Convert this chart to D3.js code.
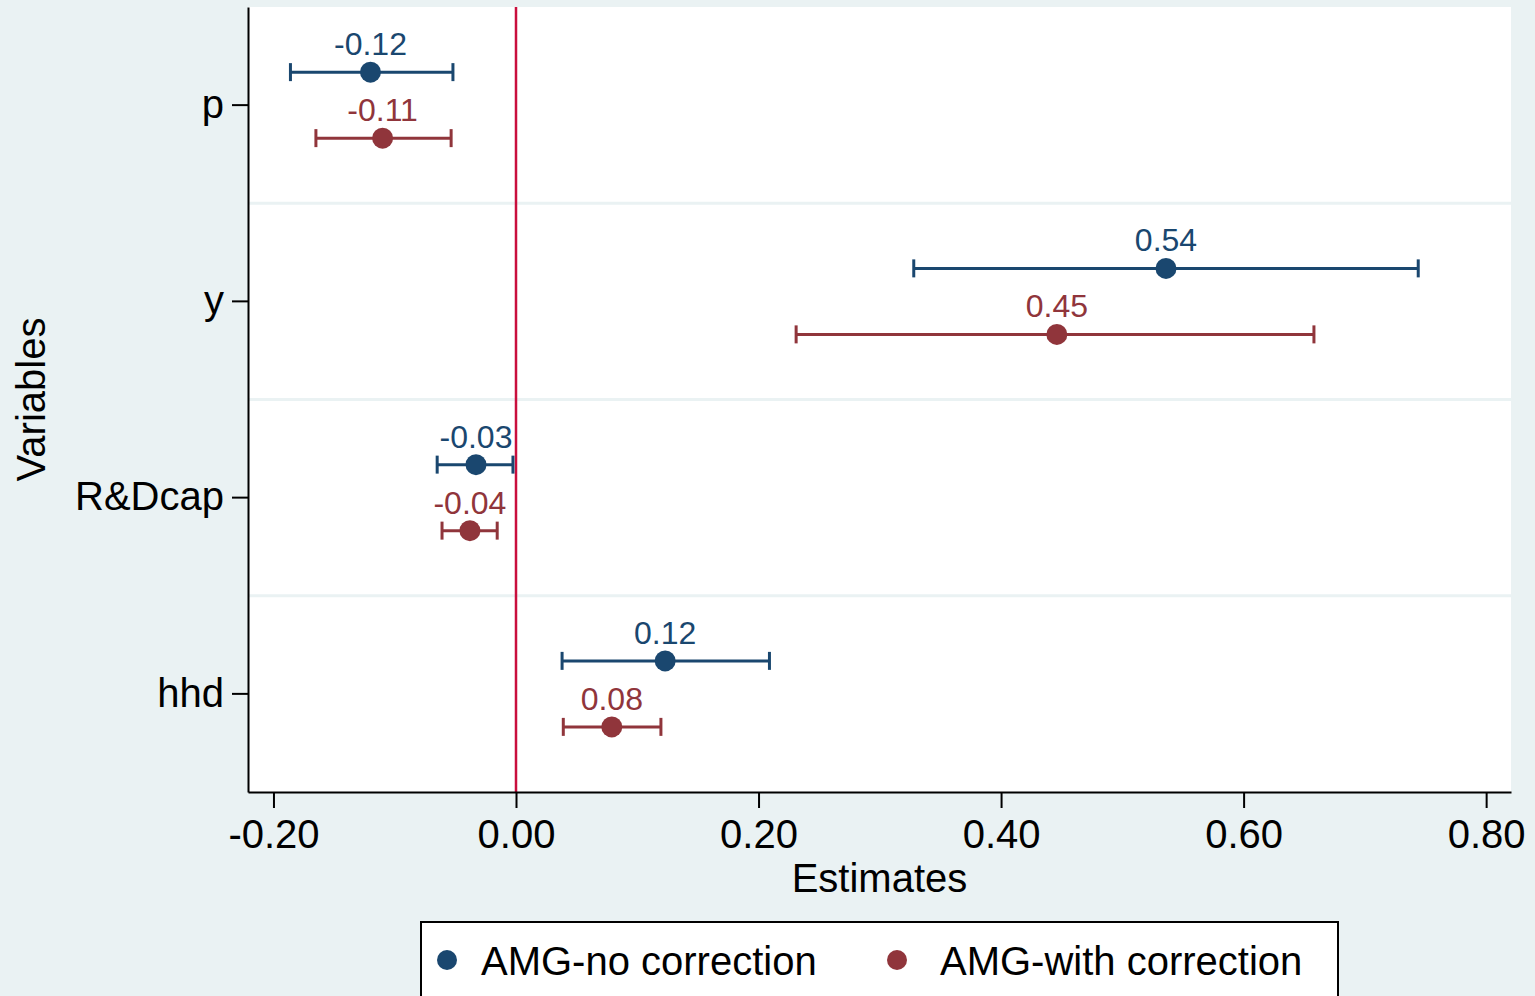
<html>
<head>
    <meta charset="utf-8">
    <script type="text/javascript" src="https://cdnjs.cloudflare.com/ajax/libs/d3/7.8.5/d3.min.js"></script>
    <style>
        body { margin: 0; background: #eaf2f3; }
        text { font-family: "Liberation Sans", Helvetica, Arial, sans-serif; }
    </style>
</head>
<body>
    <div id="viz"></div>
    <script type="text/javascript">

    // data
    var variables = ["p", "y", "R&Dcap", "hhd"];
    var seriesNames = ["AMG-no correction", "AMG-with correction"];
    var noCorr    = [-0.120, 0.536, -0.033, 0.123];
    var noCorrLo  = [-0.186, 0.328, -0.065, 0.038];
    var noCorrHi  = [-0.052, 0.744, -0.0025, 0.209];
    var withCorr   = [-0.110, 0.446, -0.038, 0.079];
    var withCorrLo = [-0.165, 0.231, -0.061, 0.039];
    var withCorrHi = [-0.0535, 0.658, -0.0155, 0.1195];
    var xTicks = [-0.2, 0, 0.2, 0.4, 0.6, 0.8];
    var colors = ["#1a476f", "#90353b"];

    var W = 1535, H = 996;
    var plotL = 248, plotR = 1511, plotT = 7, plotB = 792;
    var fmt = v => d3.format(".2f")(v).replace("\u2212", "-");

    var svg = d3.select("#viz").append("svg")
        .attr("width", W)
        .attr("height", H);

    svg.append("rect").attr("width", W).attr("height", H).attr("fill", "#eaf2f3");

    var x = d3.scaleLinear().domain([-0.221, 0.8205]).range([plotL, plotR]);
    var y = d3.scaleBand().domain(variables).range([plotT, plotB]);
    var inner = d3.scalePoint().domain(seriesNames).range([-33, 33]);

    svg.append("rect")
        .attr("x", plotL).attr("y", plotT)
        .attr("width", plotR - plotL).attr("height", plotB - plotT)
        .attr("fill", "white");

    // band separators
    svg.selectAll(".sep").data(variables.slice(1)).enter()
        .append("line")
        .attr("x1", plotL).attr("x2", plotR)
        .attr("y1", d => y(d)).attr("y2", d => y(d))
        .style("stroke", "#eaf2f3").style("stroke-width", 3);

    // zero reference line
    svg.append("line")
        .attr("x1", x(0)).attr("x2", x(0))
        .attr("y1", plotT).attr("y2", plotB)
        .style("stroke", "#c90f3d").style("stroke-width", 2.5);

    var rows = [];
    variables.forEach(function(v, i) {
        rows.push({v: v, s: 0, est: noCorr[i], lo: noCorrLo[i], hi: noCorrHi[i]});
        rows.push({v: v, s: 1, est: withCorr[i], lo: withCorrLo[i], hi: withCorrHi[i]});
    });
    var cy = d => y(d.v) + y.bandwidth() / 2 + inner(seriesNames[d.s]);

    var g = svg.selectAll(".est").data(rows).enter().append("g");
    g.append("line")
        .attr("x1", d => x(d.lo)).attr("x2", d => x(d.hi))
        .attr("y1", cy).attr("y2", cy)
        .style("stroke", d => colors[d.s]).style("stroke-width", 3);
    g.append("line")
        .attr("x1", d => x(d.lo)).attr("x2", d => x(d.lo))
        .attr("y1", d => cy(d) - 9).attr("y2", d => cy(d) + 9)
        .style("stroke", d => colors[d.s]).style("stroke-width", 3);
    g.append("line")
        .attr("x1", d => x(d.hi)).attr("x2", d => x(d.hi))
        .attr("y1", d => cy(d) - 9).attr("y2", d => cy(d) + 9)
        .style("stroke", d => colors[d.s]).style("stroke-width", 3);
    g.append("circle")
        .attr("cx", d => x(d.est)).attr("cy", cy).attr("r", 10.5)
        .style("fill", d => colors[d.s]);
    g.append("text")
        .attr("x", d => x(d.est)).attr("y", d => cy(d) - 17)
        .attr("text-anchor", "middle")
        .style("font-size", "32px")
        .style("fill", d => colors[d.s])
        .text(d => fmt(d.est));

    // axes
    var xAxis = svg.append("g")
        .attr("transform", "translate(0," + plotB + ")")
        .call(d3.axisBottom(x).tickValues(xTicks).tickFormat(fmt)
            .tickSize(16).tickSizeOuter(0).tickPadding(12));
    var yAxis = svg.append("g")
        .attr("transform", "translate(" + plotL + ",0)")
        .call(d3.axisLeft(y).tickSize(16).tickSizeOuter(0).tickPadding(8));
    [xAxis, yAxis].forEach(function(a) {
        a.select(".domain").style("stroke", "black").style("stroke-width", 2);
        a.selectAll(".tick line").style("stroke", "black").style("stroke-width", 2);
        a.selectAll(".tick text").style("font-size", "40px").style("fill", "black")
            .style("font-family", "'Liberation Sans', Helvetica, Arial, sans-serif");
    });

    svg.append("text")
        .attr("x", (plotL + plotR) / 2).attr("y", 892)
        .attr("text-anchor", "middle").style("font-size", "40px")
        .text("Estimates");
    svg.append("text")
        .attr("transform", "translate(45," + (plotT + plotB) / 2 + ") rotate(-90)")
        .attr("text-anchor", "middle").style("font-size", "40px")
        .text("Variables");

    // legend
    svg.append("rect")
        .attr("x", 421).attr("y", 922)
        .attr("width", 917).attr("height", 90)
        .style("fill", "white").style("stroke", "black").style("stroke-width", 2);
    var legX = [447, 897], legTextX = [481, 940];
    var leg = svg.selectAll(".leg").data(seriesNames).enter().append("g");
    leg.append("circle")
        .attr("cx", (d, i) => legX[i]).attr("cy", 960).attr("r", 10)
        .style("fill", (d, i) => colors[i]);
    leg.append("text")
        .attr("x", (d, i) => legTextX[i]).attr("y", 975)
        .style("font-size", "40px")
        .text(d => d);

    </script>
</body>
</html>
